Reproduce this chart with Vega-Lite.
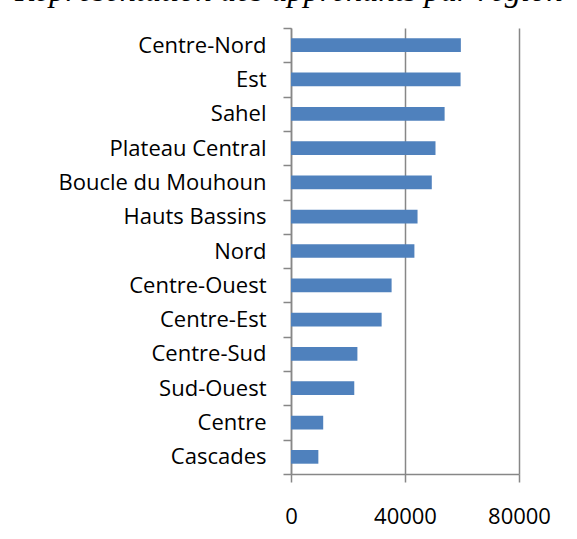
{
  "$schema": "https://vega.github.io/schema/vega-lite/v6.json",
  "autosize": "none",
  "padding": {"left": 291, "top": 28, "right": 58, "bottom": 65},
  "width": 228,
  "height": 446,
  "background": "white",
  "title": {
    "text": "Représentation des apprenants par région",
    "font": "Liberation Serif",
    "fontStyle": "italic",
    "fontWeight": "normal",
    "fontSize": 32.5,
    "color": "#000000",
    "anchor": "start",
    "baseline": "alphabetic",
    "frame": "group",
    "offset": -16,
    "dx": -276
  },
  "data": {
    "values": [
      {"region": "Centre-Nord", "apprenants": 59600},
      {"region": "Est", "apprenants": 59500},
      {"region": "Sahel", "apprenants": 53900},
      {"region": "Plateau Central", "apprenants": 50700},
      {"region": "Boucle du Mouhoun", "apprenants": 49400},
      {"region": "Hauts Bassins", "apprenants": 44400},
      {"region": "Nord", "apprenants": 43300},
      {"region": "Centre-Ouest", "apprenants": 35300},
      {"region": "Centre-Est", "apprenants": 31800},
      {"region": "Centre-Sud", "apprenants": 23300},
      {"region": "Sud-Ouest", "apprenants": 22200},
      {"region": "Centre", "apprenants": 11300},
      {"region": "Cascades", "apprenants": 9600}
    ]
  },
  "mark": {"type": "bar", "color": "#4F81BD", "height": {"band": 0.4}},
  "encoding": {
    "y": {
      "field": "region",
      "type": "nominal",
      "sort": null,
      "scale": {"paddingInner": 0, "paddingOuter": 0},
      "axis": {
        "title": null,
        "tickBand": "extent",
        "tickSize": 8,
        "tickColor": "#878787",
        "tickWidth": 1.5,
        "domainColor": "#878787",
        "domainWidth": 1.5,
        "labelFont": "Open Sans",
        "labelFontSize": 22,
        "labelColor": "#000000",
        "labelPadding": 17,
        "labelLimit": 0,
        "grid": false
      }
    },
    "x": {
      "field": "apprenants",
      "type": "quantitative",
      "scale": {"domain": [0, 80000], "nice": false},
      "axis": {
        "title": null,
        "values": [0, 40000, 80000],
        "format": "d",
        "tickSize": 8,
        "tickColor": "#878787",
        "tickWidth": 1.5,
        "domainColor": "#878787",
        "domainWidth": 1.5,
        "grid": true,
        "gridColor": "#878787",
        "gridWidth": 1.5,
        "gridOpacity": 1,
        "labelFont": "Open Sans",
        "labelFontSize": 22,
        "labelColor": "#000000",
        "labelPadding": 24,
        "labelFlush": false
      }
    }
  },
  "config": {
    "view": {"stroke": null}
  }
}
